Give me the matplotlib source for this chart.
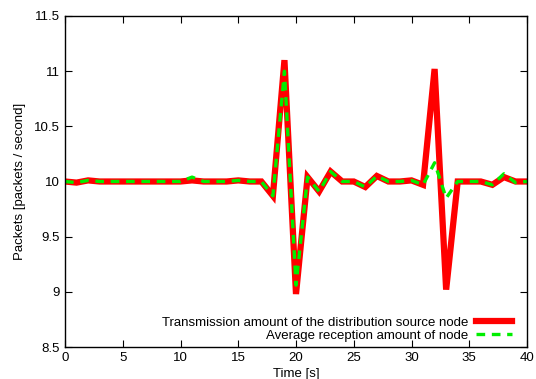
import numpy as np
import matplotlib
matplotlib.use("Agg")
import matplotlib.pyplot as plt

plt.rcParams['font.family'] = ['Liberation Sans', 'DejaVu Sans']

time_s = list(range(0, 41))
tx_source = [10.0, 9.99, 10.01, 10.0, 10.0, 10.0, 10.0, 10.0, 10.0, 10.0,
             10.0, 10.01, 10.0, 10.0, 10.0, 10.01, 10.0, 10.0, 9.87, 11.1,
             8.98, 10.04, 9.91, 10.09, 10.0, 10.0, 9.95, 10.05, 10.0, 10.0,
             10.01, 9.97, 11.02, 9.02, 10.0, 10.0, 10.0, 9.97, 10.04, 10.0,
             10.0]
rx_average = [10.0, 9.99, 10.01, 10.0, 10.0, 10.0, 10.0, 10.0, 10.0, 10.0,
              10.0, 10.04, 10.0, 10.0, 10.0, 10.01, 10.0, 10.0, 9.87, 11.0,
              9.06, 10.04, 9.91, 10.09, 10.0, 10.0, 9.95, 10.05, 10.0, 10.0,
              10.01, 9.97, 10.17, 9.85, 10.0, 10.0, 10.0, 9.97, 10.07, 9.99,
              10.0]

fig = plt.figure(figsize=(5.36, 3.79), dpi=100)
ax = fig.add_axes([65/536, 1-347/379, (527-65)/536, (347-16)/379])

ax.plot(time_s, tx_source, color='#ff0000', lw=4.5, solid_joinstyle='miter',
        label='Transmission amount of the distribution source node')
ax.plot(time_s, rx_average, color='#00ee00', lw=2.4, dashes=(2.6, 2.0),
        label='Average reception amount of node')

ax.set_xlim(0, 40)
ax.set_ylim(8.5, 11.5)
ax.set_xticks(range(0, 41, 5))
ax.set_yticks(np.arange(8.5, 11.6, 0.5))
ax.set_yticklabels(['8.5', '9', '9.5', '10', '10.5', '11', '11.5'])
ax.tick_params(direction='in', top=True, right=True, length=5, labelsize=9.5,
               width=0.8)
for s in ax.spines.values():
    s.set_linewidth(1.0)

ax.set_xlabel('Time [s]', fontsize=9.5, labelpad=3)
ax.set_ylabel('Packets [packets / second]', fontsize=9.5, labelpad=6)

leg = ax.legend(loc='lower right', bbox_to_anchor=(0.978, 0.0), frameon=False,
                fontsize=9.5, markerfirst=False, handlelength=2.7,
                handletextpad=0.6, labelspacing=0.05, borderaxespad=0.0)
for t in leg.get_texts():
    t.set_ha('right')

fig.savefig('out.png', dpi=100)
